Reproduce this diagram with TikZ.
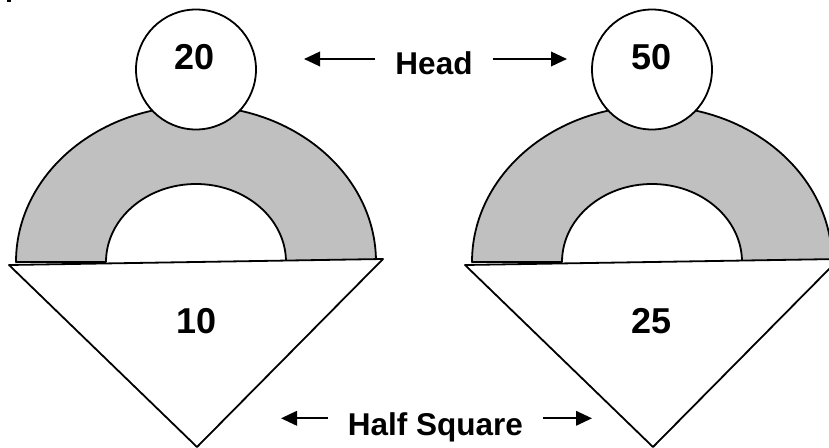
\documentclass[tikz,border=0pt]{standalone}
\usepackage{fontspec}
\setmainfont{Liberation Sans}
\usetikzlibrary{arrows.meta}
\definecolor{archgray}{HTML}{C0C0C0}
\begin{document}
\begin{tikzpicture}[x=1pt,y=1pt,
  outline/.style={draw=black,line width=1.8pt,line join=round},
  numtxt/.style={font=\fontsize{36}{40}\selectfont\bfseries,anchor=base,inner sep=0pt},
  lbltxt/.style={font=\fontsize{31.5}{36}\selectfont\bfseries,anchor=base,inner ysep=0pt,inner xsep=20pt},
  headcirc/.style={circle,outline,fill=white,minimum size=120pt,inner sep=0pt},
  pointer/.style={line width=2pt,-{Triangle[length=16pt,width=14.5pt]}}
]
\useasboundingbox (0,0) rectangle (829,447);
\fill (7,444.5) rectangle (11,447);
\foreach \cx/\nm in {196/L,652/R}{
  \fill[archgray] (\cx-180,185) arc[start angle=180,end angle=0,x radius=180,y radius=156]
     -- (\cx+90,185) arc[start angle=0,end angle=180,x radius=90,y radius=78] -- cycle;
  \draw[outline] (\cx-180,185) arc[start angle=180,end angle=0,x radius=180,y radius=156]
     -- (\cx+90,185) arc[start angle=0,end angle=180,x radius=90,y radius=78] -- cycle;
}
\node[headcirc] (headL) at (196,377.5) {};
\node[headcirc] (headR) at (652,377.5) {};
\draw[outline,fill=white] (9,182) -- (383,188) -- (197,0) -- cycle;
\draw[outline,fill=white] (465,182) -- (839,188) -- (653,0) -- cycle;
\node[numtxt] (n20) at (194.5,377) {20};
\node[numtxt] (n50) at (651.5,377) {50};
\node[numtxt] (n10) at (197,113.5) {10};
\node[numtxt] (n25) at (651.5,113.5) {25};
\node[lbltxt] (head) at (434,372) {Head};
\node[lbltxt] (half) at (435.5,12) {Half Square};
\coordinate (hl) at (304,388);
\coordinate (hr) at (567,388);
\coordinate (sl) at (281,28.7);
\coordinate (sr) at (592,28.7);
\draw[pointer] (head.west |- hl) -- (hl);
\draw[pointer] (head.east |- hr) -- (hr);
\draw[pointer] (half.west |- sl) -- (sl);
\draw[pointer] (half.east |- sr) -- (sr);
\end{tikzpicture}
\end{document}
